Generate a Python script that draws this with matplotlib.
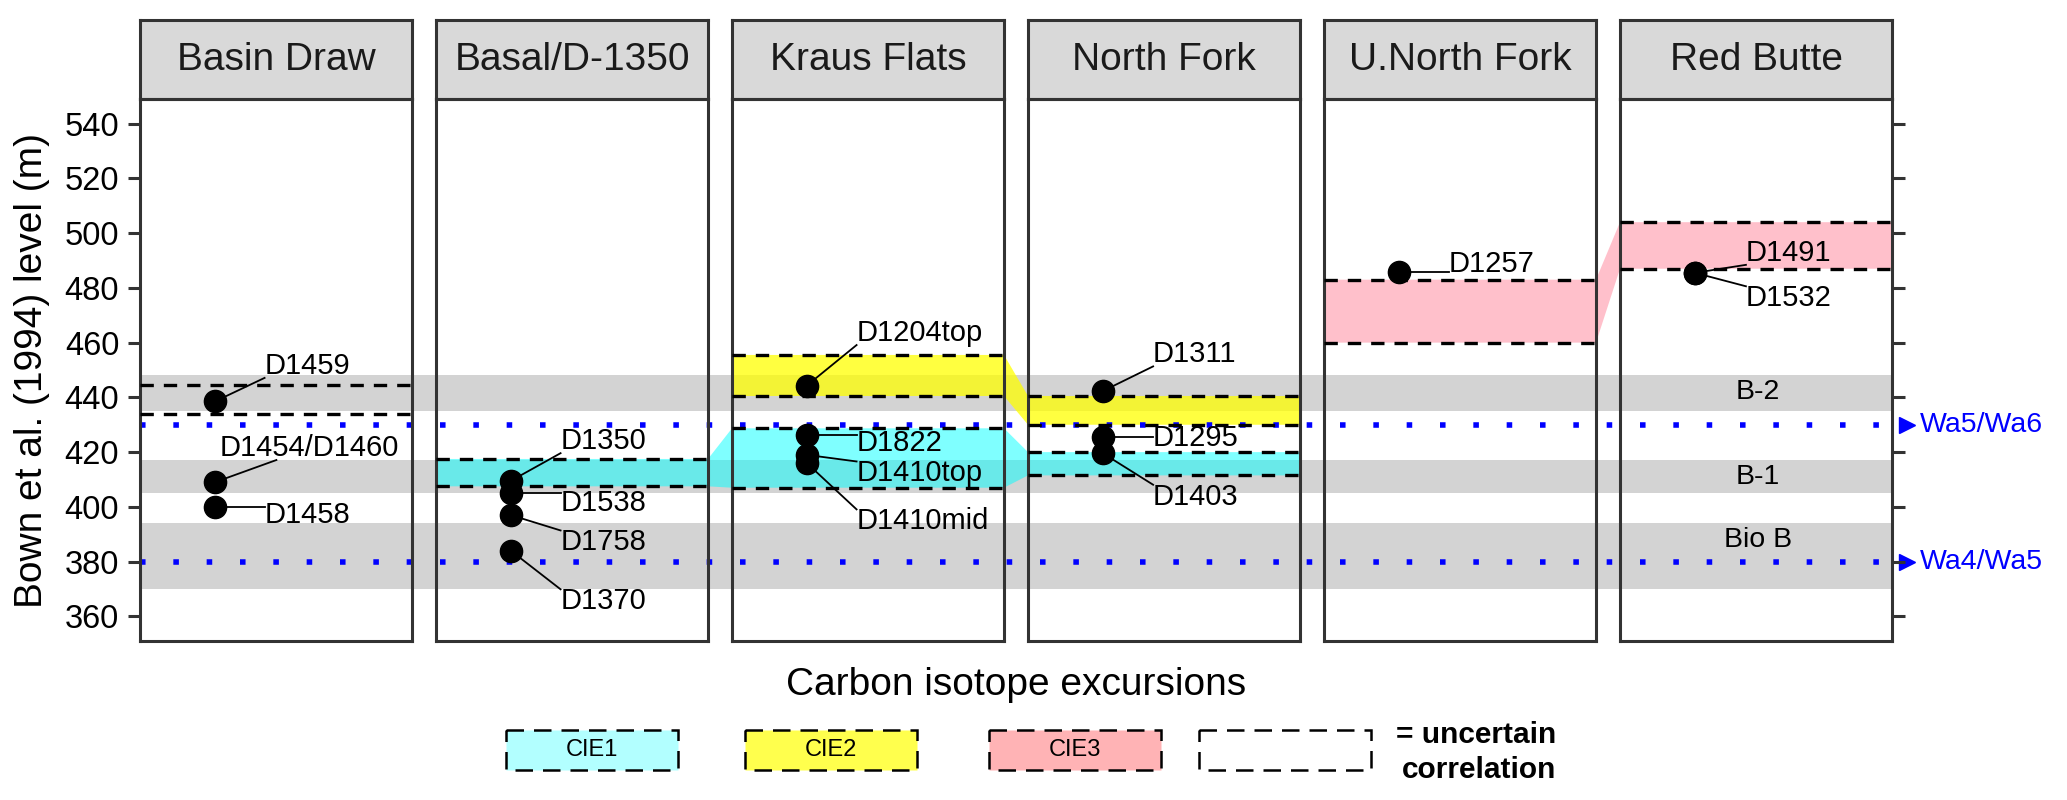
import matplotlib.pyplot as plt
from matplotlib.patches import Rectangle
from matplotlib.transforms import offset_copy

plt.rcParams['font.family'] = ['Liberation Sans', 'DejaVu Sans']

# ---- data ----
sites = ["Basin Draw", "Basal/D-1350", "Kraus Flats", "North Fork", "U.North Fork", "Red Butte"]

band_names = ["B-2", "B-1", "Bio B"]
band_low = [435, 405, 370]
band_high = [448, 417, 394]

zone_names = ["Wa5/Wa6", "Wa4/Wa5"]
zone_level = [430, 380]

cie_names = ["CIE1", "CIE2", "CIE3"]
cie_colors = ["cyan", "yellow", "pink"]
cie_alpha = [0.5, 0.75, 1.0]
legend_colors = ["#B2FFFF", "#FFFF4D", "#FFB3B5"]
cie_sites = [[1, 2, 3], [2, 3], [4, 5]]
cie_low = [[407.5, 407, 411.5], [440.5, 430], [460, 487]]
cie_high = [[417.5, 428.7, 420], [455.5, 440.5], [483, 504]]

# uncertain correlation without CIE colour
unc_sites = [0]
unc_low = [434]
unc_high = [444.5]

sample_site = [0, 0, 0, 1, 1, 1, 1, 2, 2, 2, 2, 3, 3, 3, 4, 5, 5]
sample_name = ["D1459", "D1454/D1460", "D1458", "D1350", "D1538", "D1758", "D1370",
               "D1204top", "D1822", "D1410top", "D1410mid", "D1311", "D1295", "D1403",
               "D1257", "D1491", "D1532"]
sample_level = [438.5, 409, 400, 409.5, 405, 397, 384,
                444.3, 426.3, 419, 416, 442.3, 425.7, 419.6,
                485.7, 485.5, 485.5]

# label placement (repelled positions)
label_x = [0.458, 0.294, 0.458, 0.458, 0.458, 0.458, 0.458,
           0.458, 0.458, 0.458, 0.458, 0.46, 0.46, 0.46,
           0.459, 0.463, 0.463]
label_y = [451.5, 421.5, 397, 424, 401.5, 387, 365.5,
           463.5, 423.5, 412.2, 394.7, 455.7, 425.3, 403.7,
           488.8, 492.8, 476.2]
# segment aims at the label centre instead of the nearest box point
seg_to_centre = [name == "D1454/D1460" for name in sample_name]
band_label_y = [441.8, 410.8, 388]

yticks = [360, 380, 400, 420, 440, 460, 480, 500, 520, 540]

# ---- layout ----
W, H = 2067, 800
fig = plt.figure(figsize=(W / 100, H / 100), dpi=100)

p_left, p_w, p_gap = 140, 272, 24
p_top, p_bot, s_top = 99, 641, 20
g = p_gap / p_w
ylim = (351, 549)
edge = "#333333"


def fx(px):
    return px / W


def fy(py):
    return 1 - py / H


# background axis carries bands, zone lines and CIE ribbons through the gaps
bg = fig.add_axes([fx(p_left), fy(p_bot), fx(6 * p_w + 5 * p_gap), fy(p_top) - fy(p_bot)])
bg.set_xlim(0, 6 + 5 * g)
bg.set_ylim(*ylim)
bg.axis("off")
bg.set_zorder(0)

for lo, hi in zip(band_low, band_high):
    bg.axhspan(lo, hi, color="#D3D3D3", lw=0, zorder=1)

for k in range(3):
    up, dn = [], []
    for s, lo, hi in zip(cie_sites[k], cie_low[k], cie_high[k]):
        x0 = s * (1 + g)
        up += [(x0, hi), (x0 + 1, hi)]
        dn += [(x0, lo), (x0 + 1, lo)]
    pts = up + dn[::-1]
    bg.fill([p[0] for p in pts], [p[1] for p in pts], color=cie_colors[k],
            alpha=cie_alpha[k], lw=0, zorder=2)

ytr = bg.get_yaxis_transform()
for name, lev in zip(zone_names, zone_level):
    bg.axhline(lev, color="blue", lw=4, ls=(0, (1, 5)), dash_capstyle="butt", zorder=3)
    bg.plot(1, lev, marker=">", ms=11, color="blue", clip_on=False,
            transform=offset_copy(ytr, fig=fig, x=11, y=0, units="points"))
    bg.annotate(name, xy=(1, lev), xycoords=ytr, xytext=(20, 0), textcoords="offset points",
                ha="left", va="center", color="blue", fontsize=20.5, annotation_clip=False)

axes = []
for i, site in enumerate(sites):
    x0 = p_left + i * (p_w + p_gap)
    ax = fig.add_axes([fx(x0), fy(p_bot), fx(p_w), fy(p_top) - fy(p_bot)])
    ax.set_facecolor("none")
    ax.set_zorder(2)
    ax.set_xlim(0, 1)
    ax.set_ylim(*ylim)
    ax.set_xticks([])
    for sp in ax.spines.values():
        sp.set_color(edge)
        sp.set_linewidth(2.2)
    ax.set_yticks(yticks)
    ax.tick_params(axis="y", length=9, width=2.2, color=edge, labelsize=23.5, pad=6)
    if i == 0:
        ax.tick_params(axis="y", left=True, labelleft=True, right=False)
    elif i == 5:
        ax.tick_params(axis="y", left=False, labelleft=False, right=True, labelright=False)
    else:
        ax.tick_params(axis="y", left=False, labelleft=False)
    axes.append(ax)

    st = fig.add_axes([fx(x0), fy(p_top), fx(p_w), fy(s_top) - fy(p_top)])
    st.set_facecolor("#D9D9D9")
    st.set_xticks([])
    st.set_yticks([])
    for sp in st.spines.values():
        sp.set_color(edge)
        sp.set_linewidth(2.2)
    st.text(0.5, 0.5, site, ha="center", va="center", fontsize=28, color="#1A1A1A",
            transform=st.transAxes)

# dashed correlation limits
dash = dict(color="black", lw=2.4, ls=(0, (4, 3)), zorder=3)
for k in range(3):
    for s, lo, hi in zip(cie_sites[k], cie_low[k], cie_high[k]):
        axes[s].axhline(lo, **dash)
        axes[s].axhline(hi, **dash)
for s, lo, hi in zip(unc_sites, unc_low, unc_high):
    axes[s].axhline(lo, **dash)
    axes[s].axhline(hi, **dash)

for name, y in zip(band_names, band_label_y):
    axes[5].text(0.506, y, name, ha="center", va="center", fontsize=20.5)

# sample points and repelled labels
dot_x = 0.275
texts = []
for s, name, lev, lx, ly in zip(sample_site, sample_name, sample_level, label_x, label_y):
    ax = axes[s]
    ax.plot(dot_x, lev, "o", ms=16, color="black", zorder=6)
    texts.append(ax.text(lx, ly, name, ha="left", va="center", fontsize=21, zorder=6))

# leader segments
fig.canvas.draw()
r = fig.canvas.get_renderer()
for s, lev, t, centre in zip(sample_site, sample_level, texts, seg_to_centre):
    ax = axes[s]
    bb = t.get_window_extent(r)
    x0, x1, y0, y1 = bb.x0, bb.x1, bb.y0 + 2, bb.y1 - 2
    px, py = ax.transData.transform((dot_x, lev))
    if centre:
        dx, dy = (x0 + x1) / 2 - px, (y0 + y1) / 2 - py
        ts = [0.0]
        if dx != 0:
            ts.append(((x0 if dx > 0 else x1) - px) / dx)
        if dy != 0:
            ts.append(((y0 if dy > 0 else y1) - py) / dy)
        tt = min(max(ts), 1.0)
        qx, qy = px + tt * dx, py + tt * dy
    else:
        qx = min(max(px, x0), x1)
        qy = min(max(py, y0), y1)
    ex, ey = ax.transData.inverted().transform((qx, qy))
    ax.plot([dot_x, ex], [lev, ey], color="black", lw=1.3, zorder=5)

# overlay in pixel coordinates for titles and the legend
ov = fig.add_axes([0, 0, 1, 1])
ov.set_xlim(0, W)
ov.set_ylim(H, 0)
ov.axis("off")
ov.set_zorder(4)

ov.text(32, (p_top + p_bot) / 2, "Bown et al. (1994) level (m)", rotation=90,
        ha="center", va="center", fontsize=28)
ov.text(p_left + (6 * p_w + 5 * p_gap) / 2, 685, "Carbon isotope excursions",
        ha="center", va="center", fontsize=28)

box_x = [506, 745, 989, 1199]
box_w, box_y, box_h = 172, 730, 40
for k in range(4):
    fill = legend_colors[k] if k < 3 else "none"
    ov.add_patch(Rectangle((box_x[k], box_y), box_w, box_h, facecolor=fill,
                           edgecolor="black", lw=1.8, ls=(0, (7, 4))))
    if k < 3:
        ov.text(box_x[k] + box_w / 2, box_y + box_h / 2, cie_names[k], ha="center",
                va="center", fontsize=17)
ov.text(1476, 735, "= uncertain", ha="center", va="center", fontsize=21.5, fontweight="bold")
ov.text(1479, 770, "correlation", ha="center", va="center", fontsize=21.5, fontweight="bold")

fig.savefig("out.png", dpi=100)
